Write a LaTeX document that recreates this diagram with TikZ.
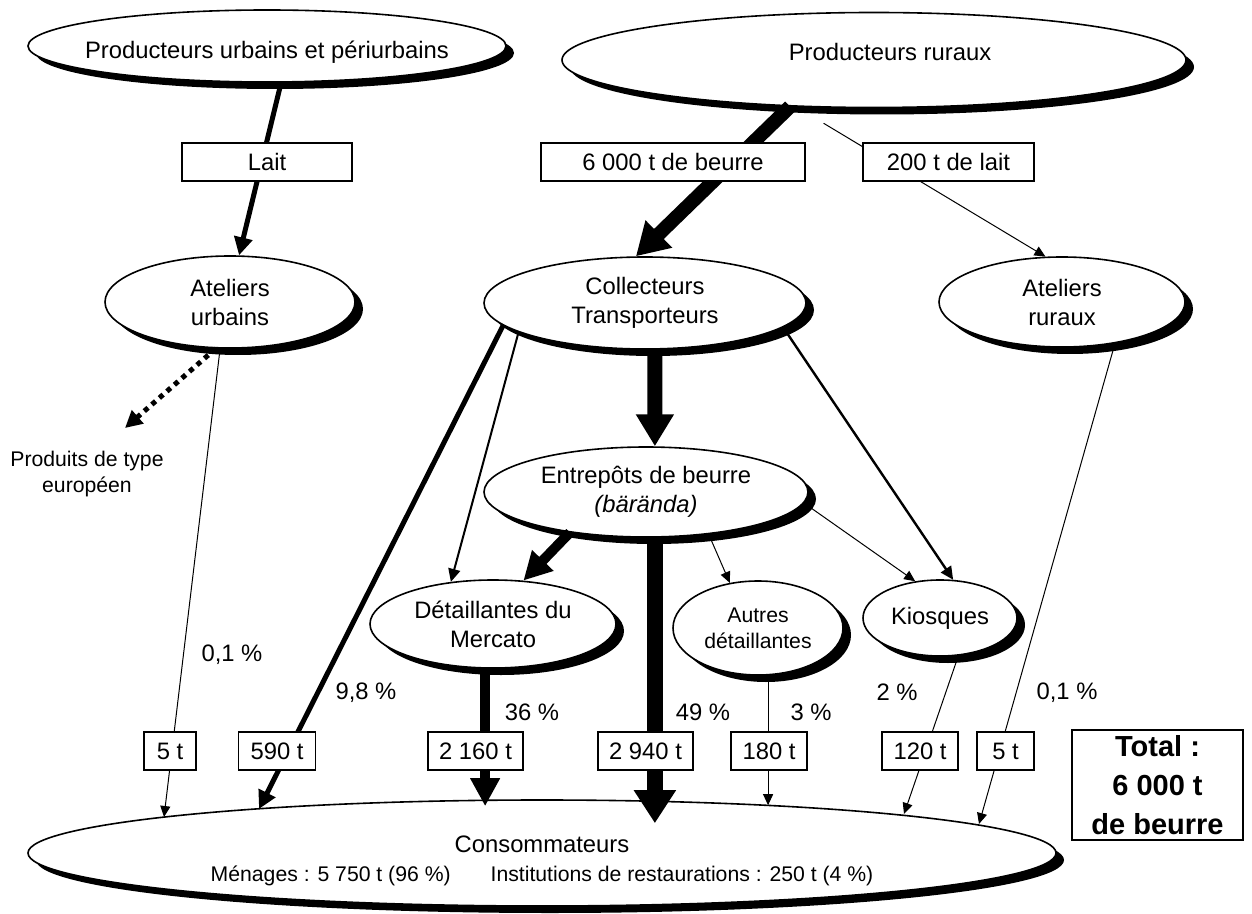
\documentclass[tikz,border=0pt]{standalone}
\usepackage{fontspec}
\setmainfont{Liberation Sans}
\usepackage{tikz}
\usetikzlibrary{shapes.geometric}
\usetikzlibrary{shadows}
\usetikzlibrary{arrows.meta}

\newcommand{\petit}{\fontsize{10.6}{13}\selectfont}

\tikzset{
  bulle/.style={ellipse, draw, line width=0.8pt, fill=white, inner sep=0pt, align=center,
    drop shadow={shadow xshift=4pt, shadow yshift=-3.5pt, opacity=1, fill=black}},
  etiq/.style={draw, line width=0.75pt, fill=white, inner sep=0pt, minimum height=19pt},
  fin/.style={line width=0.5pt, -{Triangle[length=5.5pt,width=5pt]}},
  moyen/.style={line width=1pt, -{Triangle[length=6.5pt,width=6pt]}},
  gros/.style={line width=2.5pt, -{Triangle[length=9pt,width=9pt]}},
  tresgros/.style={line width=5pt, -{Triangle[length=14pt,width=14pt]}},
  enorme/.style={line width=7.5pt, -{Triangle[length=16pt,width=18pt]}},
  pointille/.style={line width=2.5pt, dash pattern=on 2.5pt off 2.5pt, -{Triangle[length=8.5pt,width=8.5pt]}}
}

\begin{document}
\begin{tikzpicture}[x=0.5pt, y=-0.5pt, font=\fontsize{11.9}{14.5}\selectfont]
    \useasboundingbox (0,0) rectangle (1252,914);
    \node[bulle, inner xsep=-8pt, text height=14.7pt, minimum width=239pt, minimum height=36pt] (produrb) at (267,46) {Producteurs urbains et périurbains};
    \node[bulle, text depth=8pt, minimum width=312pt, minimum height=47.5pt] (prodrur) at (874,60) {\hspace*{16pt}Producteurs ruraux};
    \node[bulle, minimum width=125pt, minimum height=46pt] (atelurb) at (230,302) {Ateliers\\urbains};
    \node[bulle, minimum width=161pt, minimum height=46pt] (collect) at (645,303) {Collecteurs\\Transporteurs};
    \node[bulle, minimum width=123pt, minimum height=45pt] (atelrur) at (1062,302) {Ateliers\\ruraux};
    \node[bulle, minimum width=162pt, minimum height=45pt] (entrepot) at (646,492) {Entrepôts de beurre\\\textit{(bärända)}};
    \node[bulle, minimum width=123pt, minimum height=44pt] (detail) at (493,624) {Détaillantes du\\Mercato};
    \node[bulle, minimum width=85pt, minimum height=47pt, font=\petit] (autres) at (758,628) {Autres\\détaillantes};
    \node[bulle, minimum width=77pt, minimum height=38pt] (kiosq) at (940,618) {Kiosques};
    \node[bulle, text height=31pt, minimum width=514pt, minimum height=53pt] (conso) at (542,853) {Consommateurs\\{\petit Ménages : 5 750 t (96 \%)\hspace{20pt}Institutions de restaurations : 250 t (4 \%)}};
    \node[font=\petit, align=center] (produits) at (87,474) {Produits de type\\européen};
    \coordinate (prodtip) at (125,428);
    \coordinate (c5a) at (164,817);
    \coordinate (c590) at (259,809);
    \coordinate (c120) at (904,814);
    \coordinate (c5b) at (979,824);

    \draw[gros] (produrb.-69) -- (atelurb.79);
    \draw[enorme, line width=7pt] (prodrur.209) -- (collect.101);
    \draw[fin, shorten <=16pt] (prodrur.211) -- (atelrur.110);
    \draw[pointille] (atelurb.253) -- (prodtip);
    \draw[fin] (atelurb.258) -- (c5a);
    \draw[gros] (collect.189.3) -- (c590);
    \draw[moyen] (collect.193.7) -- (detail.135);
    \draw[enorme] (collect.-78) -- (entrepot.79);
    \draw[moyen, line width=1.2pt] (collect.-10.4) -- (kiosq.71);
    \draw[tresgros] (entrepot.208.7) -- (detail.55);
    \draw[enorme, line width=8pt, -{Triangle[length=16.5pt,width=20pt]}, shorten >=-12pt] (entrepot.-79) -- (entrepot.-79 |- conso.north);
    \draw[tresgros, shorten >=-3.5pt] (detail.-100) -- (detail.-100 |- conso.north);
    \draw[fin] (entrepot.-34.3) -- (autres.122.5);
    \draw[fin] (entrepot.-4) -- (kiosq.124.8);
    \draw[fin, shorten >=-3pt] (autres.-78) -- (autres.-78 |- conso.north);
    \draw[fin] (kiosq.-64) -- (c120);
    \draw[fin] (atelrur.-38.9) -- (c5b);

    \node[etiq, minimum width=85pt] (lait) at (267,162) {Lait};
    \node[etiq, minimum width=132pt] (beurre) at (673,162) {6 000 t de beurre};
    \node[etiq, minimum width=85.5pt] (laitrur) at (948.5,162) {200 t de lait};
    \node[etiq, minimum width=26pt] (t5a) at (170,751) {5 t};
    \node[etiq, minimum width=38.5pt] (t590) at (277,751) {590 t};
    \node[etiq, minimum width=47.5pt] (t2160) at (475.5,751) {2 160 t};
    \node[etiq, minimum width=47.5pt] (t2940) at (645.5,751) {2 940 t};
    \node[etiq, minimum width=38pt] (t180) at (769,751) {180 t};
    \node[etiq, minimum width=38pt] (t120) at (920,751) {120 t};
    \node[etiq, minimum width=28.5pt] (t5b) at (1005.5,751) {5 t};
    \node[etiq, minimum width=85.5pt, minimum height=55pt, align=center, font=\fontsize{14.5}{19.5}\selectfont\bfseries] (total) at (1157.5,785) {Total :\\6 000 t\\de beurre};

    \node (p01a) at (232,655) {0,1 \%};
    \node (p98) at (366,693) {9,8 \%};
    \node (p36) at (532,712) {36 \%};
    \node (p49) at (703,712) {49 \%};
    \node (p3) at (811,712) {3 \%};
    \node (p2) at (897,692) {2 \%};
    \node (p01b) at (1067,693) {0,1 \%};
\end{tikzpicture}
\end{document}
